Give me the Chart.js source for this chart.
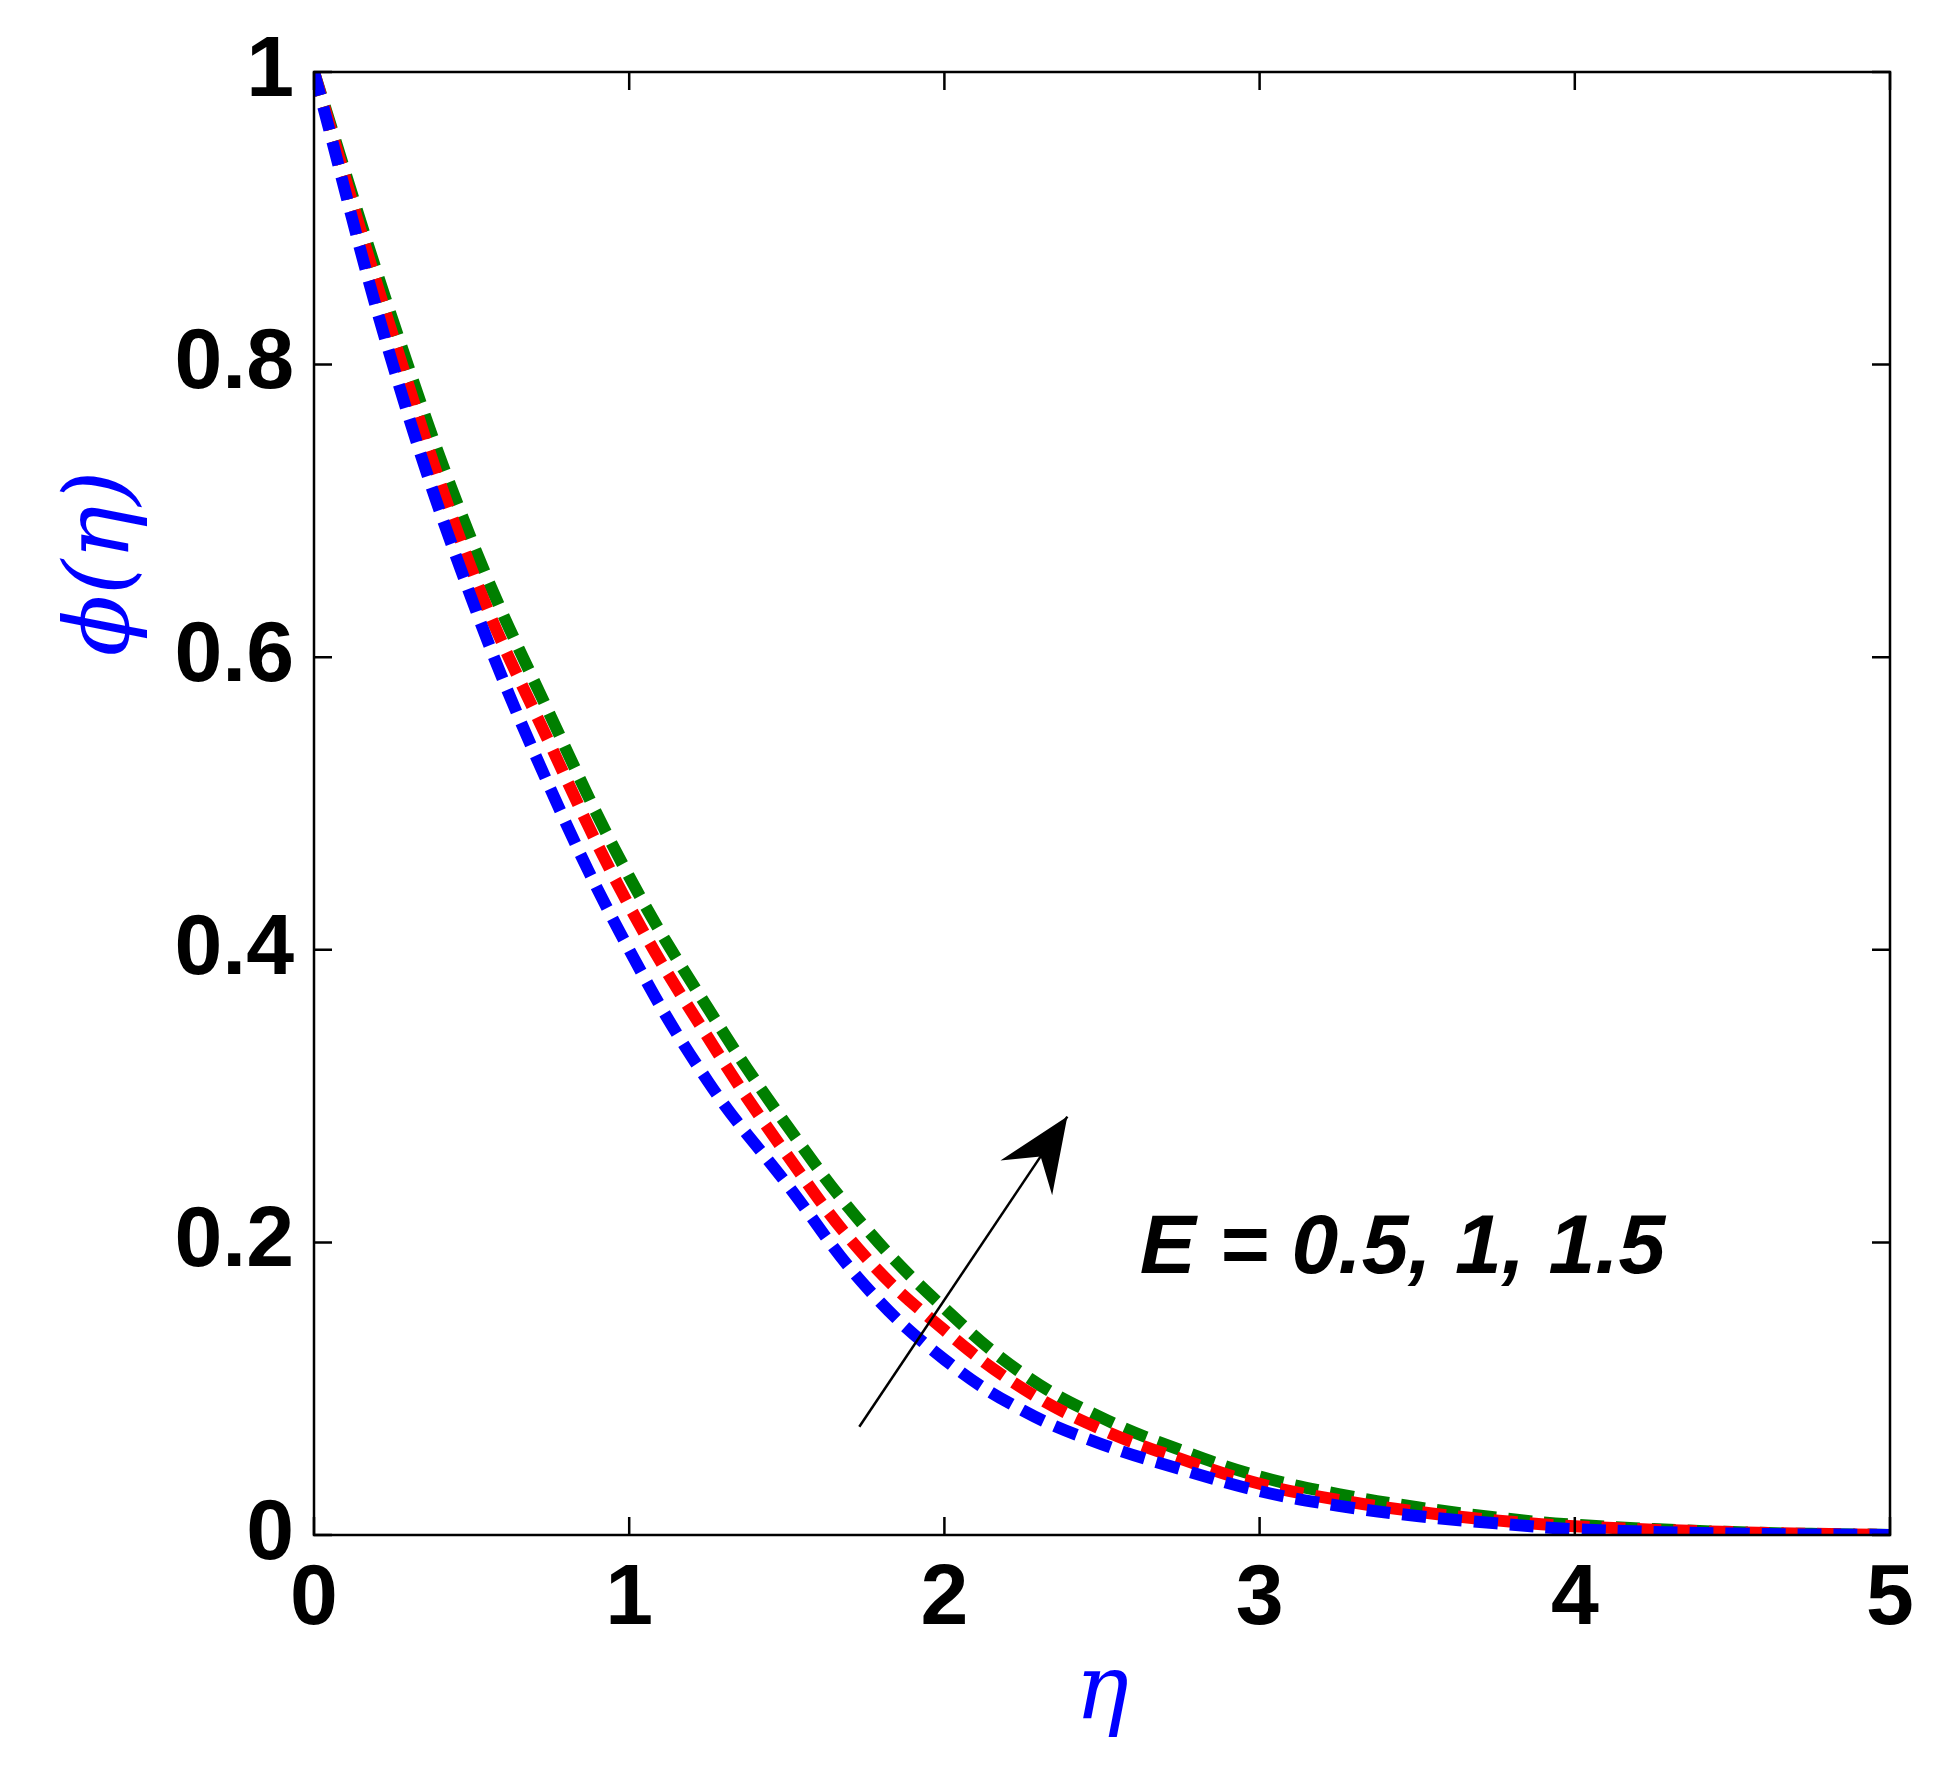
<!DOCTYPE html>
<html><head><script src="https://cdn.jsdelivr.net/npm/chart.js@4"></script>
<style>body{margin:0;background:#fff}#w{width:1944px;height:1776px}</style></head>
<body><div id="w"><canvas id="c"></canvas></div>
<script>
const etaValues=[0,0.25,0.5,0.75,1,1.25,1.5,1.75,2,2.25,2.5,2.75,3,3.25,3.5,3.75,4,4.5,5];
const phiE05=[1,0.80,0.64,0.51,0.40,0.31,0.24,0.17,0.12,0.085,0.062,0.045,0.03,0.02,0.013,0.008,0.004,0.001,0];
const phiE1=[1,0.82,0.66,0.54,0.43,0.34,0.26,0.19,0.14,0.10,0.072,0.052,0.035,0.024,0.016,0.010,0.006,0.002,0];
const phiE15=[1,0.83,0.68,0.56,0.45,0.36,0.28,0.21,0.155,0.11,0.08,0.058,0.04,0.028,0.019,0.012,0.007,0.002,0];
const xTicks=[0,1,2,3,4,5];
const yTicks=[0,0.2,0.4,0.6,0.8,1];
const seriesColors=['#0000ff','#ff0000','#007f00'];
const annotText='E = 0.5, 1, 1.5';
const arrowFrom=[1.73,0.074], arrowTo=[2.39,0.286], textAt=[2.62,0.195];

const mk=(arr,i)=>({data:etaValues.map((x,k)=>({x,y:arr[k]})),borderColor:seriesColors[i],borderWidth:12,borderDash:[24,12],pointRadius:0,tension:0.4,fill:false});
const deco={id:'deco',afterDraw(ch){
 const c=ch.ctx,x=ch.scales.x,y=ch.scales.y,a=ch.chartArea;
 c.save();c.strokeStyle='#000';c.lineWidth=2.5;
 c.strokeRect(a.left,a.top,a.right-a.left,a.bottom-a.top);
 const L=18;
 xTicks.forEach(v=>{const p=x.getPixelForValue(v);c.beginPath();c.moveTo(p,a.bottom);c.lineTo(p,a.bottom-L);c.moveTo(p,a.top);c.lineTo(p,a.top+L);c.stroke();});
 yTicks.forEach(v=>{const p=y.getPixelForValue(v);c.beginPath();c.moveTo(a.left,p);c.lineTo(a.left+L,p);c.moveTo(a.right,p);c.lineTo(a.right-L,p);c.stroke();});
 const x1=x.getPixelForValue(arrowFrom[0]),y1=y.getPixelForValue(arrowFrom[1]),x2=x.getPixelForValue(arrowTo[0]),y2=y.getPixelForValue(arrowTo[1]);
 c.lineWidth=2.5;c.beginPath();c.moveTo(x1,y1);c.lineTo(x2,y2);c.stroke();
 const ang=Math.atan2(y2-y1,x2-x1),h=80,w=0.4;
 c.fillStyle='#000';c.beginPath();c.moveTo(x2,y2);
 c.lineTo(x2-h*Math.cos(ang-w),y2-h*Math.sin(ang-w));
 c.lineTo(x2-0.6*h*Math.cos(ang),y2-0.6*h*Math.sin(ang));
 c.lineTo(x2-h*Math.cos(ang+w),y2-h*Math.sin(ang+w));c.closePath();c.fill();
 c.font='italic bold 84px "Liberation Sans"';c.textBaseline='middle';c.textAlign='left';
 c.fillText(annotText,x.getPixelForValue(textAt[0]),y.getPixelForValue(textAt[1]));
 c.fillStyle='#0000ff';c.font='italic 90px "DejaVu Serif"';c.textAlign='center';
 c.fillText('η',(a.left+a.right)/2,1695);
 c.translate(105,(a.top+a.bottom)/2-240);c.rotate(-Math.PI/2);c.fillText('ϕ(η)',0,0);
 c.restore();}};
const tickFont={family:'"Liberation Sans Narrow","Liberation Sans"',weight:'bold',size:86};
new Chart(document.getElementById('c'),{type:'line',data:{datasets:[mk(phiE05,0),mk(phiE1,1),mk(phiE15,2)]},
options:{responsive:true,maintainAspectRatio:false,animation:false,
 layout:{padding:{top:72,right:54,left:0,bottom:0}},
 plugins:{legend:{display:false},tooltip:{enabled:false}},
 scales:{x:{type:'linear',min:0,max:5,grid:{display:false},border:{display:false},
   afterBuildTicks:s=>{s.ticks=xTicks.map(v=>({value:v}))},afterFit:s=>{s.height=241},
   ticks:{color:'#000',font:tickFont,padding:6,maxRotation:0}},
  y:{type:'linear',min:0,max:1,grid:{display:false},border:{display:false},
   afterBuildTicks:s=>{s.ticks=yTicks.map(v=>({value:v}))},afterFit:s=>{s.width=314},
   ticks:{color:'#000',font:tickFont,padding:12,callback:v=>String(v)}}}},
plugins:[deco]});
</script></body></html>
